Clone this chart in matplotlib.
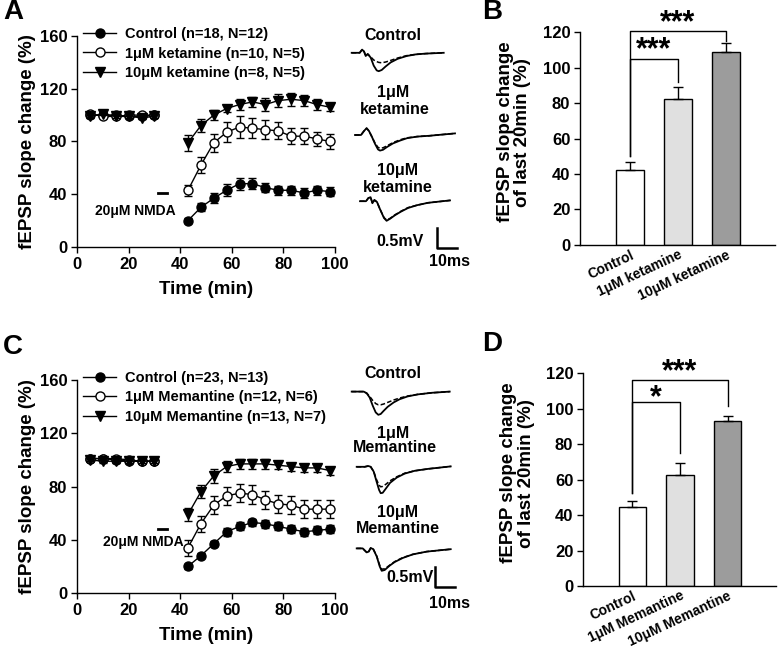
import matplotlib
matplotlib.use('Agg')
import matplotlib.pyplot as plt
import numpy as np

plt.rcParams['font.family'] = ['Liberation Sans', 'DejaVu Sans']
plt.rcParams['font.weight'] = 'bold'
plt.rcParams['axes.labelweight'] = 'bold'
plt.rcParams['axes.linewidth'] = 1.0

# ---------------- data ----------------
time_base = [5, 10, 15, 20, 25, 30]
time_post = [43, 48, 53, 58, 63, 68, 73, 78, 83, 88, 93, 98]

# panel A (ketamine)
a_ctrl = [100, 100, 100, 99, 99, 100, 20, 30, 37, 43, 48, 48, 45, 43, 43, 41, 43, 42]
a_ctrl_err = [1, 1, 1, 1, 1, 1, 2, 3, 4, 4.5, 4.5, 4, 3.5, 3.5, 3.5, 3.5, 3.5, 3.5]
a_k1 = [101, 99, 99, 100, 100, 100, 43, 62, 79, 87, 91, 90, 89, 88, 84, 84, 82, 80]
a_k1_err = [1, 1, 1, 1, 1, 1, 4, 6, 7, 7.5, 8, 7.5, 7, 6.5, 6, 6, 5.5, 6]
a_k10 = [99, 101, 99, 99, 98, 99, 79, 92, 100, 105, 108, 110, 108, 111, 112, 111, 108, 106]
a_k10_err = [1, 1, 1, 1, 1, 1, 6, 5, 4, 3, 4, 4, 5, 5, 5, 4, 4, 3]
a_labels = ['Control (n=18, N=12)', '1μM ketamine (n=10, N=5)', '10μM ketamine (n=8, N=5)']

# panel C (memantine)
c_ctrl = [101, 101, 100, 99, 99, 99, 20, 28, 37, 46, 50, 53, 52, 50, 48, 46, 47, 48]
c_ctrl_err = [1, 1, 1, 1, 1, 1, 2, 2, 2, 3, 3, 2.5, 3, 3, 3, 3, 3, 3]
c_m1 = [101, 101, 101, 100, 99, 99, 34, 52, 66, 73, 75, 74, 70, 67, 66, 63, 63, 63]
c_m1_err = [1, 1, 1, 1, 1, 1, 6, 6, 7, 7, 7, 7, 7, 7, 7, 7, 7, 7]
c_m10 = [100, 99, 99, 99, 99, 99, 59, 76, 88, 95, 97, 97, 97, 96, 95, 94, 94, 92]
c_m10_err = [1, 1, 1, 1, 1, 1, 5, 5, 5, 4, 4, 4, 4, 3, 3, 3, 3, 3]
c_labels = ['Control (n=23, N=13)', '1μM Memantine (n=12, N=6)', '10μM Memantine (n=13, N=7)']

# bar panels B and D
b_groups = ['Control', '1μM ketamine', '10μM ketamine']
b_means = [42.5, 82, 109]
b_errs = [4, 7, 5]
d_groups = ['Control', '1μM Memantine', '10μM Memantine']
d_means = [44.5, 62.5, 93]
d_errs = [3.5, 7, 3]

# example traces (time in ms, amplitude in mV relative to baseline)
a_trace_t = [[0, 4, 5.2, 6.2, 7, 8, 9.5, 11, 12.5, 13.5, 15, 17, 19.5, 23, 27.5, 32, 37, 46],
             [0, 3, 4.5, 5.8, 7, 8.5, 10, 11.5, 12.5, 14, 16, 19, 22.5, 26, 31, 37, 50],
             [0, 3, 4.2, 5.3, 6.2, 7.2, 8.5, 10, 12, 13.3, 15, 17.5, 20.5, 24, 28.5, 34, 45]]
a_trace_solid = [[0, 0, 0.08, 0.03, -0.08, -0.03, -0.12, -0.32, -0.44, -0.46, -0.43, -0.34, -0.24, -0.15, -0.08, -0.04, -0.02, 0],
                 [0, 0, 0.1, 0.17, 0.1, -0.05, -0.22, -0.36, -0.39, -0.37, -0.3, -0.21, -0.14, -0.08, -0.04, -0.02, 0.04],
                 [0, 0, 0.08, 0.1, -0.05, 0.03, -0.02, -0.2, -0.42, -0.49, -0.44, -0.35, -0.26, -0.17, -0.1, -0.04, 0.02]]
a_trace_dash = [[0, 0, 0.08, 0.03, -0.08, -0.03, -0.1, -0.18, -0.22, -0.24, -0.25, -0.23, -0.19, -0.13, -0.07, -0.04, -0.02, 0],
                [0, 0, 0.1, 0.17, 0.1, -0.05, -0.2, -0.31, -0.33, -0.32, -0.27, -0.19, -0.12, -0.07, -0.04, -0.02, 0.04],
                [0, 0, 0.08, 0.1, -0.05, 0.03, -0.02, -0.2, -0.41, -0.47, -0.43, -0.34, -0.25, -0.16, -0.1, -0.04, 0.02]]
c_trace_t = [[0, 6, 7.5, 9, 10.5, 12, 13.3, 14.5, 16, 18, 21, 24, 28, 33, 40, 49],
             [0, 4, 5.8, 7, 8.5, 10, 11.2, 12, 13, 14.5, 16.7, 20, 24, 29, 36, 47],
             [0, 3, 4, 5, 6, 7, 8.3, 10, 11.5, 12.5, 14, 16.5, 19, 23, 28, 35, 47]]
c_trace_solid = [[0, 0, -0.04, -0.15, -0.35, -0.52, -0.58, -0.56, -0.48, -0.38, -0.27, -0.19, -0.12, -0.07, -0.03, 0],
                 [0, 0, 0.02, 0, -0.12, -0.38, -0.58, -0.66, -0.65, -0.55, -0.4, -0.27, -0.17, -0.1, -0.05, 0.01],
                 [0, 0, -0.05, -0.1, -0.08, 0.01, -0.02, -0.2, -0.45, -0.56, -0.54, -0.43, -0.34, -0.24, -0.15, -0.08, -0.02]]
c_trace_dash = [[0, 0, -0.04, -0.12, -0.22, -0.3, -0.33, -0.33, -0.31, -0.27, -0.21, -0.16, -0.11, -0.07, -0.03, 0],
                [0, 0, 0.02, 0, -0.12, -0.33, -0.46, -0.5, -0.49, -0.44, -0.35, -0.25, -0.16, -0.1, -0.05, 0.01],
                [0, 0, -0.05, -0.1, -0.08, 0.01, -0.02, -0.19, -0.42, -0.52, -0.51, -0.42, -0.33, -0.23, -0.15, -0.08, -0.02]]


fig = plt.figure(figsize=(7.78, 6.60), dpi=100)


def line_panel(rect, series, errs, labels, nmda_y, nmda_text_xy):
    ax = fig.add_axes(rect)
    styles = [dict(marker='o', mfc='black'),
              dict(marker='o', mfc='white'),
              dict(marker='v', mfc='black')]
    for y, e, lab, st in zip(series, errs, labels, styles):
        ax.errorbar(time_base + time_post, y, yerr=e, fmt='none', ecolor='black',
                    elinewidth=1, capsize=3, capthick=1)
        ax.plot(time_base, y[:6], color='black', lw=1, ms=6.5, mec='black', label=lab, **st)
        ax.plot(time_post, y[6:], color='black', lw=1, ms=6.5, mec='black', **st)
    ax.plot([31.5, 35], [nmda_y, nmda_y], color='black', lw=2)
    ax.text(nmda_text_xy[0], nmda_text_xy[1], '20μM NMDA', ha='center', va='center', fontsize=10)
    ax.set_xlim(0, 100)
    ax.set_ylim(0, 160)
    ax.set_xticks([0, 20, 40, 60, 80, 100])
    ax.set_yticks([0, 40, 80, 120, 160])
    ax.tick_params(labelsize=12, width=1, length=4, pad=3)
    ax.spines['top'].set_visible(False)
    ax.spines['right'].set_visible(False)
    ax.set_xlabel('Time (min)', fontsize=13.5, labelpad=7)
    ax.set_ylabel('fEPSP slope change (%)', fontsize=13.5, labelpad=3)
    ax.legend(loc='upper left', bbox_to_anchor=(0.0, 1.07), frameon=False, fontsize=10.5,
              handlelength=2.3, handletextpad=0.6, labelspacing=0.38, borderaxespad=0)
    return ax


def bar_panel(rect, groups, means, errs, brackets):
    ax = fig.add_axes(rect)
    x = np.arange(len(groups))
    ax.bar(x, means, width=0.58, color=['white', '#e0e0e0', '#9c9c9c'], edgecolor='black', lw=1)
    ax.errorbar(x, means, yerr=[np.zeros(len(errs)), errs], fmt='none', ecolor='black',
                elinewidth=1, capsize=3.5)
    for x_end, y_start, y_top, y_end, stars, star_y in brackets:
        ax.plot([0, 0, x_end, x_end], [y_start, y_top, y_top, y_end], color='black', lw=1, clip_on=False)
        ax.text(x_end / 2, star_y, stars, ha='center', va='center', fontsize=22, clip_on=False)
    ax.set_xlim(-1.04, 3.02)
    ax.set_ylim(0, 120)
    ax.set_yticks(np.arange(0, 121, 20))
    ax.set_xticks(x)
    ax.set_xticklabels(groups, rotation=25, ha='right', rotation_mode='anchor', fontsize=10)
    ax.tick_params(axis='x', length=0, pad=2)
    ax.tick_params(axis='y', labelsize=12, width=1, length=4, pad=3)
    ax.spines['top'].set_visible(False)
    ax.spines['right'].set_visible(False)
    ax.set_ylabel('fEPSP slope change\nof last 20min (%)', fontsize=13.5, labelpad=0, linespacing=1.05)
    ax.yaxis.set_label_coords(-0.25, 0.53)
    return ax


def trace_panel(rect, height_mv, starts, ts, solids, dashes, labels, bar_xy, mv_xy, ms_xy):
    ax = fig.add_axes(rect)
    for (x0, y0), t, s, d in zip(starts, ts, solids, dashes):
        t = np.array(t) + x0
        ax.plot(t, np.array(s) + y0, color='black', lw=1.3)
        ax.plot(t, np.array(d) + y0, color='black', lw=1.1, ls=(0, (3, 1.5)))
    for (lx, ly), txt in labels:
        ax.text(lx, ly, txt, ha='center', va='center', fontsize=11.5)
    bx, by = bar_xy
    ax.plot([bx, bx, bx + 10], [by + 0.5, by, by], color='black', lw=1.8)
    ax.text(mv_xy[0], mv_xy[1], '0.5mV', ha='center', va='center', fontsize=11.5)
    ax.text(ms_xy[0], ms_xy[1], '10ms', ha='center', va='center', fontsize=11.5)
    ax.set_xlim(0, 65)
    ax.set_ylim(-height_mv, 0)
    ax.axis('off')
    return ax


# panel A
line_panel([0.099, 0.6258, 0.3316, 0.3197], [a_ctrl, a_k1, a_k10], [a_ctrl_err, a_k1_err, a_k10_err],
           a_labels, 40.7, (22.5, 27.5))
# panel C
line_panel([0.099, 0.1015, 0.3316, 0.3227], [c_ctrl, c_m1, c_m10], [c_ctrl_err, c_m1_err, c_m10_err],
           c_labels, 48.3, (25.6, 38.3))

# panel B
bar_panel([0.7455, 0.6288, 0.2506, 0.3227], b_groups, b_means, b_errs,
          [(1, 50, 105, 92, '***', 109.5), (2, 50, 120.3, 115, '***', 125)])
# panel D
bar_panel([0.7494, 0.1121, 0.248, 0.3227], d_groups, d_means, d_errs,
          [(1, 52.6, 103.4, 74.8, '*', 106), (2, 52.6, 116, 101.3, '***', 120.5)])

# traces
trace_panel([340 / 778, 1 - 310 / 660, 130 / 778, 310 / 660], 7.75,
            [(5.85, -1.32), (7.5, -3.375), (10, -5.03)],
            a_trace_t, a_trace_solid, a_trace_dash,
            [((26.5, -0.875), 'Control'), ((26.5, -2.3), '1μM'), ((27.5, -2.75), 'ketamine'),
             ((29, -4.25), '10μM'), ((29, -4.675), 'ketamine')],
            (48.4, -6.2), (30, -6.05), (54.5, -6.55))
trace_panel([340 / 778, 0, 130 / 778, 320 / 660], 8.0,
            [(5.85, -1.29), (8.35, -3.17), (8.35, -5.21)],
            c_trace_t, c_trace_solid, c_trace_dash,
            [((26.5, -0.825), 'Control'), ((26.5, -2.33), '1μM'), ((27.5, -2.7), 'Memantine'),
             ((29, -4.3), '10μM'), ((29, -4.72), 'Memantine')],
            (47.5, -6.175), (35, -5.93), (54.5, -6.6))

# panel letters
for x, y, letter in [(3, 12, 'A'), (482, 12, 'B'), (3, 347, 'C'), (482, 344, 'D')]:
    fig.text(x / 778, 1 - y / 660, letter, fontsize=20, fontweight='bold', ha='left', va='center')

plt.savefig('out.png', dpi=100, facecolor='white')
